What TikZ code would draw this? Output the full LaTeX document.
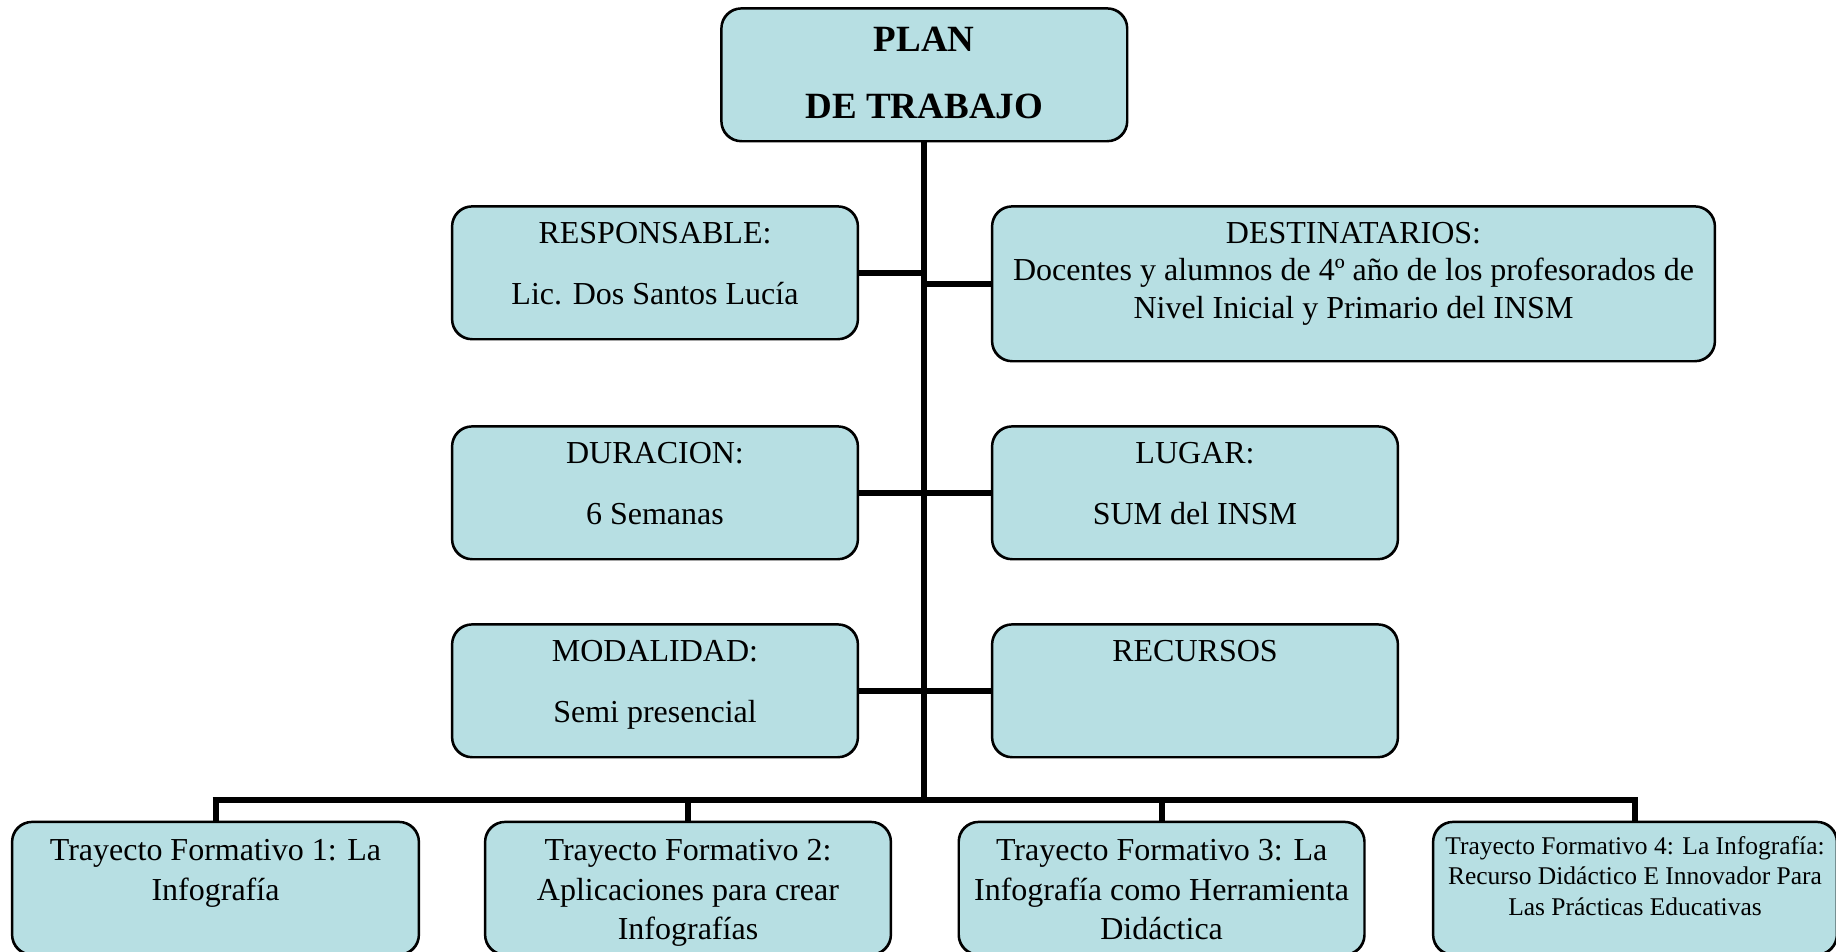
\documentclass[tikz,border=0pt]{standalone}
\usepackage{fontspec}
\setmainfont{Liberation Serif}
\definecolor{boxfill}{HTML}{B7DFE3}
\begin{document}
\begin{tikzpicture}[x=1pt,y=-1pt,
  box/.style={draw=black, line width=1.6pt, fill=boxfill, rounded corners=20pt,
    inner sep=0pt, minimum height=132pt, anchor=north west},
  outline/.style={draw=black, line width=1.6pt, rounded corners=20pt},
  txt/.style={align=center, inner sep=0pt, anchor=north, font=\fontsize{32}{37.2}\selectfont},
  txtb/.style={align=center, inner sep=0pt, anchor=north, font=\fontsize{32}{39.5}\selectfont},
  txts/.style={align=center, inner sep=0pt, anchor=north, font=\fontsize{25.5}{30.5}\selectfont},
  ttl/.style={align=center, inner sep=0pt, anchor=north, font=\fontsize{37}{44}\selectfont\bfseries},
  conn/.style={draw=black, line width=6pt}]
\fill[white] (0,0) rectangle (1836,951);
\useasboundingbox (0,0) rectangle (1836,951);

% boxes (geometry)
\node[box, minimum width=405pt] (top) at (721,8) {};
\node[box, minimum width=405pt] (resp) at (451.7,206) {};
\node[box, minimum width=722pt, minimum height=154pt] (dest) at (991.7,206) {};
\node[box, minimum width=405pt] (dur) at (451.7,426) {};
\node[box, minimum width=405pt] (lug) at (991.7,426) {};
\node[box, minimum width=405pt] (mod) at (451.7,624) {};
\node[box, minimum width=405pt] (rec) at (991.7,624) {};
\node[box, minimum width=406pt] (t1) at (11.7,821.5) {};
\node[box, minimum width=405pt] (t2) at (484.7,821.5) {};
\node[box, minimum width=405pt] (t3) at (958.3,821.5) {};
\node[box, minimum width=403pt] (t4) at (1432.7,821.5) {};

\coordinate (bar) at (top.south |- 0,800);

% connectors
\draw[conn] (top.south) -- (bar);
\draw[conn] (resp.east) -- (resp.east -| top.south);
\draw[conn] (dest.west) -- (dest.west -| top.south);
\draw[conn] (dur.east) -- (lug.west);
\draw[conn] (mod.east) -- (rec.west);
\draw[conn] ([xshift=-3pt]t1.north |- bar) -- ([xshift=3pt]t4.north |- bar);
\draw[conn] (t1.north |- bar) -- (t1.north);
\draw[conn] (t2.north |- bar) -- (t2.north);
\draw[conn] (t3.north |- bar) -- (t3.north);
\draw[conn] (t4.north |- bar) -- (t4.north);

% redraw box outlines on top of connector ends
\foreach \b in {top,resp,dest,dur,lug,mod,rec,t1,t2,t3,t4}{
  \draw[outline] (\b.north west) rectangle (\b.south east);
}

% texts
\node[ttl] (topT) at ([yshift=-12.2pt]top.north) {\strut PLAN\\[23.3pt]DE TRABAJO};
\node[txt] (respT) at ([yshift=-11.2pt]resp.north) {\strut RESPONSABLE:\\[23.4pt]Lic. Dos Santos Lucía};
\node[txt] (destT) at ([yshift=-11.5pt]dest.north) {\strut DESTINATARIOS:\\Docentes y alumnos de 4º año de los profesorados de\\Nivel Inicial y Primario del INSM};
\node[txt] (durT) at ([yshift=-11.2pt]dur.north) {\strut DURACION:\\[23.4pt]6 Semanas};
\node[txt] (lugT) at ([yshift=-11.2pt]lug.north) {\strut LUGAR:\\[23.4pt]SUM del INSM};
\node[txt] (modT) at ([yshift=-11.2pt]mod.north) {\strut MODALIDAD:\\[23.4pt]Semi presencial};
\node[txt] (recT) at ([yshift=-11.2pt]rec.north) {\strut RECURSOS};
\node[txtb] (t1T) at ([yshift=-11.2pt]t1.north) {\strut Trayecto Formativo 1: La\\Infografía};
\node[txtb] (t2T) at ([yshift=-11.2pt]t2.north) {\strut Trayecto Formativo 2:\\Aplicaciones para crear\\Infografías};
\node[txtb] (t3T) at ([yshift=-11.2pt]t3.north) {\strut Trayecto Formativo 3: La\\Infografía como Herramienta\\Didáctica};
\node[txts] (t4T) at ([yshift=-11.2pt]t4.north) {\strut Trayecto Formativo 4: La Infografía:\\Recurso Didáctico E Innovador Para\\Las Prácticas Educativas};
\end{tikzpicture}
\end{document}
